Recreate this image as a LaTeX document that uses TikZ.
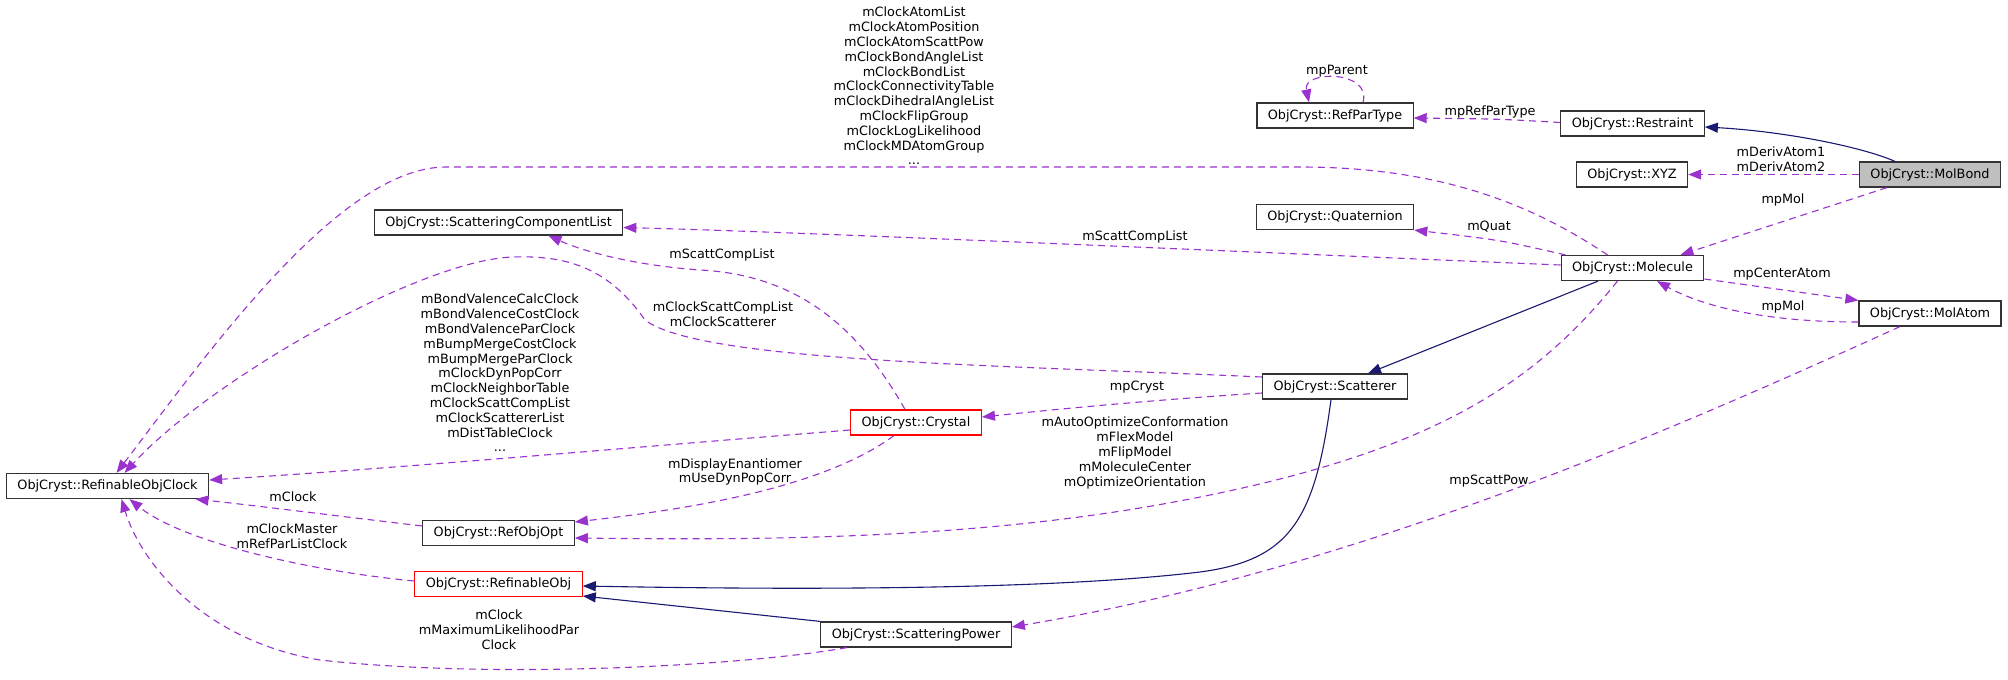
\documentclass[tikz,border=0pt]{standalone}
\usepackage{fontspec}
\setmainfont{DejaVu Sans}
\usetikzlibrary{arrows.meta}
\definecolor{edgepurple}{HTML}{9A32CD}
\definecolor{edgenavy}{HTML}{191970}
\definecolor{boxline}{HTML}{333333}
\definecolor{boxgray}{HTML}{BFBFBF}

\begin{document}
\begin{tikzpicture}[x=1pt, y=-1pt, >={Triangle[length=13pt,width=10pt]},
    box/.style={draw=boxline, line width=1.2pt, minimum height=25pt, inner xsep=11pt, inner ysep=0pt, font=\fontsize{12.8}{14.8}\selectfont},
    truncbox/.style={box, draw=red},
    mainbox/.style={box, fill=boxgray},
    lbl/.style={align=center, inner sep=0pt, font=\fontsize{12.8}{14.8}\selectfont},
    inhedge/.style={->, edgenavy, line width=1.1pt},
    useedge/.style={->, edgepurple, line width=1.1pt, dash pattern=on 7pt off 5pt}]

    \useasboundingbox (0,0) rectangle (2008,680);

    % 节点
    \node[mainbox] (molbond) at (1930, 174.5) {ObjCryst::MolBond};
    \node[box] (restraint) at (1632.5, 123.5) {ObjCryst::Restraint};
    \node[box] (xyz) at (1632, 174.5) {ObjCryst::XYZ};
    \node[box] (refpar) at (1335, 115.5) {ObjCryst::RefParType};
    \node[box] (quat) at (1335, 217) {ObjCryst::Quaternion};
    \node[box] (molecule) at (1632.5, 268) {ObjCryst::Molecule};
    \node[box] (molatom) at (1930, 313.5) {ObjCryst::MolAtom};
    \node[box] (scatterer) at (1335, 386.5) {ObjCryst::Scatterer};
    \node[truncbox] (crystal) at (916, 422.5) {ObjCryst::Crystal};
    \node[box] (scl) at (498.5, 222.5) {ObjCryst::ScatteringComponentList};
    \node[box] (roc) at (107.5, 486) {ObjCryst::RefinableObjClock};
    \node[box] (refobjopt) at (498.5, 533) {ObjCryst::RefObjOpt};
    \node[truncbox] (refobj) at (498.5, 584) {ObjCryst::RefinableObj};
    \node[box] (scatpow) at (916, 634.5) {ObjCryst::ScatteringPower};

    % 继承
    \draw[inhedge] ([xshift=-35pt]molbond.north) .. controls (1860,146) and (1780,131) .. ([yshift=-3.5pt]restraint.east);
    \draw[inhedge] ([xshift=-34.5pt]molecule.south) -- ([xshift=33pt]scatterer.north);
    \draw[inhedge] ([xshift=-4pt]scatterer.south) .. controls (1315,520) and (1290,560) .. (1200,572)
        .. controls (1050,590) and (800,590) .. ([yshift=-2pt]refobj.east);
    \draw[inhedge] (scatpow.north west) -- ([yshift=-12pt]refobj.east);

    % 成员
    \draw[useedge] (molbond.west) -- (xyz.east);
    \draw[useedge] ([xshift=-43pt]molbond.south) -- ([xshift=48pt]molecule.north);
    \draw[useedge] ([yshift=1pt]restraint.west) .. controls (1500,119) .. ([yshift=-2.5pt]refpar.east);
    \draw[useedge] ([xshift=28pt]refpar.north) .. controls (1372,70) and (1302,70) .. ([xshift=-26pt]refpar.north);
    \draw[useedge] ([xshift=5pt]molecule.north west) .. controls (1500,240) .. (quat.south east);
    \draw[useedge] ([yshift=3pt]molecule.west) .. controls (1200,250) and (800,232) .. ([yshift=-5pt]scl.east);
    \draw[useedge] ([xshift=-25pt]molecule.north) .. controls (1540,210) and (1450,167) .. (1300,167)
        -- (446,167) .. controls (340,167) and (210,350) .. ([xshift=9pt]roc.north);
    \draw[useedge] ([yshift=9.5pt]scatterer.west) .. controls (1000,365) and (700,362) .. (645,320)
        .. controls (610,270) and (570,255) .. (513,257)
        .. controls (420,260) and (210,380) .. ([xshift=17pt]roc.north);
    \draw[useedge] ([xshift=-11pt]crystal.north) .. controls (860,330) and (800,275) .. (700,270)
        .. controls (630,265) and (580,250) .. ([xshift=50pt]scl.south);
    \draw[useedge] ([yshift=-7.5pt]crystal.west) .. controls (600,450) and (400,468) .. ([yshift=6pt]roc.east);
    \draw[useedge] ([xshift=-22pt]crystal.south) .. controls (820,490) and (680,510) .. ([yshift=11pt]refobjopt.east);
    \draw[useedge] ([xshift=-15pt]molecule.south) .. controls (1530,390) and (1420,460) .. (1146,507)
        .. controls (950,540) and (750,540) .. ([yshift=-5pt]refobjopt.east);
    \draw[useedge] ([yshift=-6.5pt]scatterer.west) .. controls (1150,400) and (1050,410) .. ([yshift=5.5pt]crystal.east);
    \draw[useedge] ([yshift=-8.5pt]molatom.west) .. controls (1760,322) and (1700,305) .. ([xshift=24.5pt]molecule.south);
    \draw[useedge] ([yshift=-11pt]molecule.east) -- (molatom.north west);
    \draw[useedge] ([xshift=-30pt]molatom.south) .. controls (1650,440) and (1350,570) .. ([yshift=7.5pt]scatpow.east);
    \draw[useedge] ([xshift=-69pt]scatpow.south) .. controls (750,665) and (500,680) .. (320,660)
        .. controls (200,640) and (140,560) .. ([xshift=14pt]roc.south);
    \draw[useedge] ([yshift=3pt]refobj.west) .. controls (300,570) and (180,540) .. ([xshift=22pt]roc.south);
    \draw[useedge] ([yshift=7pt]refobjopt.west) .. controls (330,515) and (250,505) .. ([xshift=88pt]roc.south);

    % 标签
    \node[lbl] (l-deriv) at (1781, 159) {mDerivAtom1\\mDerivAtom2};
    \node[lbl] (l-mpmol1) at (1783, 200) {mpMol};
    \node[lbl] (l-refpar) at (1490, 112) {mpRefParType};
    \node[lbl] (l-parent) at (1337, 71) {mpParent};
    \node[lbl] (l-quat) at (1489, 227) {mQuat};
    \node[lbl] (l-scl1) at (1135, 237) {mScattCompList};
    \node[lbl] (l-clock1) at (914, 86) {mClockAtomList\\mClockAtomPosition\\mClockAtomScattPow\\mClockBondAngleList\\mClockBondList\\mClockConnectivityTable\\mClockDihedralAngleList\\mClockFlipGroup\\mClockLogLikelihood\\mClockMDAtomGroup\\...};
    \node[lbl] (l-clock2) at (723, 314) {mClockScattCompList\\mClockScatterer};
    \node[lbl] (l-scl2) at (722, 255) {mScattCompList};
    \node[lbl] (l-clock3) at (500, 373) {mBondValenceCalcClock\\mBondValenceCostClock\\mBondValenceParClock\\mBumpMergeCostClock\\mBumpMergeParClock\\mClockDynPopCorr\\mClockNeighborTable\\mClockScattCompList\\mClockScattererList\\mDistTableClock\\...};
    \node[lbl] (l-enant) at (735, 472) {mDisplayEnantiomer\\mUseDynPopCorr};
    \node[lbl] (l-auto) at (1135, 453) {mAutoOptimizeConformation\\mFlexModel\\mFlipModel\\mMoleculeCenter\\mOptimizeOrientation};
    \node[lbl] (l-cryst) at (1137, 387) {mpCryst};
    \node[lbl] (l-center) at (1782, 274) {mpCenterAtom};
    \node[lbl] (l-mpmol2) at (1783, 307) {mpMol};
    \node[lbl] (l-pow) at (1489, 481) {mpScattPow};
    \node[lbl] (l-clock4) at (499, 630) {mClock\\mMaximumLikelihoodPar\\Clock};
    \node[lbl] (l-master) at (292, 536) {mClockMaster\\mRefParListClock};
    \node[lbl] (l-clock5) at (293, 497) {mClock};

\end{tikzpicture}
\end{document}
